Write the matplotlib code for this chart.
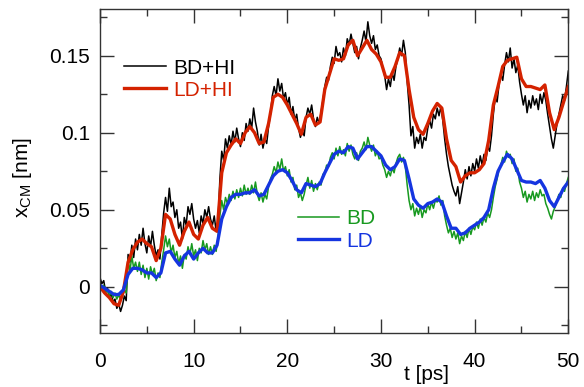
import numpy as np
import matplotlib
matplotlib.use("Agg")
import matplotlib.pyplot as plt
from matplotlib.ticker import MultipleLocator, FixedLocator, FixedFormatter

plt.rcParams["font.family"] = ["Liberation Sans", "DejaVu Sans"]
plt.rcParams["mathtext.fontset"] = "custom"
plt.rcParams["mathtext.rm"] = "Liberation Sans"
plt.rcParams["mathtext.it"] = "Liberation Sans:italic"

# time grids (ps)
t_fine = np.linspace(0, 50, 251)    # noisy BD traces, every 0.2 ps
t_smooth = np.linspace(0, 50, 101)  # LD traces, every 0.5 ps

# BD+HI (black)
bd_hi = [
    0.006, 0.002, 0.004, -0.003, -0.001, -0.007, -0.004, -0.010, -0.008, -0.014,
    -0.011, -0.016, -0.012, -0.006, -0.009, 0.021, 0.016, 0.027, 0.019, 0.031,
    0.024, 0.034, 0.027, 0.038, 0.028, 0.022, 0.033, 0.026, 0.036, 0.027,
    0.020, 0.024, 0.018, 0.034, 0.048, 0.058, 0.049, 0.064, 0.052, 0.055,
    0.045, 0.050, 0.038, 0.042, 0.031, 0.045, 0.040, 0.052, 0.047, 0.054,
    0.044, 0.038, 0.043, 0.035, 0.046, 0.041, 0.050, 0.045, 0.052, 0.044,
    0.040, 0.046, 0.036, 0.041, 0.070, 0.088, 0.082, 0.096, 0.090, 0.098,
    0.092, 0.101, 0.094, 0.103, 0.096, 0.091, 0.100, 0.095, 0.106, 0.101,
    0.109, 0.103, 0.116, 0.107, 0.101, 0.092, 0.099, 0.090, 0.096, 0.093,
    0.104, 0.112, 0.124, 0.130, 0.124, 0.135, 0.127, 0.132, 0.122, 0.126,
    0.118, 0.123, 0.112, 0.117, 0.108, 0.112, 0.103, 0.097, 0.101, 0.098,
    0.110, 0.116, 0.112, 0.118, 0.109, 0.104, 0.110, 0.106, 0.113, 0.121,
    0.130, 0.136, 0.134, 0.143, 0.149, 0.145, 0.156, 0.150, 0.152, 0.146,
    0.155, 0.150, 0.161, 0.157, 0.164, 0.158, 0.152, 0.156, 0.148, 0.155,
    0.160, 0.166, 0.159, 0.172, 0.163, 0.158, 0.163, 0.154, 0.157, 0.150,
    0.148, 0.142, 0.137, 0.128, 0.135, 0.130, 0.139, 0.134, 0.143, 0.148,
    0.155, 0.150, 0.160, 0.152, 0.133, 0.118, 0.098, 0.104, 0.090, 0.097,
    0.093, 0.099, 0.090, 0.097, 0.095, 0.103, 0.108, 0.103, 0.112, 0.109,
    0.116, 0.111, 0.117, 0.108, 0.096, 0.086, 0.078, 0.072, 0.066, 0.062,
    0.059, 0.065, 0.054, 0.061, 0.068, 0.076, 0.070, 0.078, 0.072, 0.080,
    0.075, 0.083, 0.077, 0.085, 0.079, 0.086, 0.082, 0.091, 0.088, 0.098,
    0.112, 0.123, 0.120, 0.131, 0.138, 0.134, 0.144, 0.152, 0.146, 0.155,
    0.142, 0.148, 0.139, 0.144, 0.133, 0.125, 0.118, 0.124, 0.113, 0.121,
    0.116, 0.124, 0.118, 0.122, 0.115, 0.125, 0.119, 0.126, 0.121, 0.112,
    0.104, 0.096, 0.090, 0.098, 0.106, 0.112, 0.118, 0.124, 0.121, 0.130,
    0.140,
]

# BD (green)
bd = [
    0.002, -0.002, 0.001, -0.004, -0.002, -0.006, -0.003, -0.007, -0.004, -0.008,
    -0.005, -0.009, -0.006, -0.002, -0.004, 0.018, 0.010, 0.020, 0.012, 0.016,
    0.010, 0.016, 0.008, 0.014, 0.006, 0.012, 0.005, 0.013, 0.008, 0.012,
    0.004, 0.009, 0.006, 0.016, 0.024, 0.033, 0.026, 0.031, 0.022, 0.027,
    0.019, 0.023, 0.015, 0.020, 0.012, 0.021, 0.018, 0.026, 0.021, 0.028,
    0.020, 0.024, 0.017, 0.025, 0.022, 0.030, 0.024, 0.028, 0.021, 0.026,
    0.021, 0.027, 0.023, 0.032, 0.046, 0.056, 0.050, 0.058, 0.054, 0.060,
    0.056, 0.062, 0.057, 0.063, 0.058, 0.064, 0.059, 0.066, 0.060, 0.064,
    0.060, 0.066, 0.061, 0.068, 0.060, 0.056, 0.061, 0.055, 0.060, 0.057,
    0.065, 0.070, 0.073, 0.078, 0.074, 0.081, 0.076, 0.083, 0.075, 0.078,
    0.072, 0.076, 0.068, 0.071, 0.063, 0.066, 0.058, 0.061, 0.056, 0.060,
    0.066, 0.071, 0.064, 0.069, 0.062, 0.067, 0.063, 0.068, 0.066, 0.073,
    0.074, 0.079, 0.078, 0.084, 0.087, 0.083, 0.090, 0.085, 0.091, 0.086,
    0.089, 0.085, 0.093, 0.088, 0.092, 0.086, 0.083, 0.087, 0.082, 0.088,
    0.090, 0.094, 0.089, 0.097, 0.092, 0.088, 0.092, 0.085, 0.088, 0.083,
    0.084, 0.079, 0.076, 0.071, 0.075, 0.072, 0.077, 0.074, 0.080, 0.084,
    0.086, 0.081, 0.084, 0.078, 0.066, 0.056, 0.050, 0.054, 0.046, 0.051,
    0.047, 0.052, 0.045, 0.050, 0.048, 0.054, 0.050, 0.055, 0.051, 0.056,
    0.055, 0.059, 0.053, 0.056, 0.046, 0.040, 0.035, 0.038, 0.032, 0.036,
    0.031, 0.035, 0.028, 0.033, 0.030, 0.036, 0.032, 0.038, 0.034, 0.039,
    0.037, 0.042, 0.038, 0.044, 0.040, 0.045, 0.042, 0.048, 0.045, 0.050,
    0.058, 0.065, 0.070, 0.076, 0.079, 0.084, 0.081, 0.088, 0.084, 0.086,
    0.080, 0.083, 0.075, 0.077, 0.068, 0.064, 0.058, 0.062, 0.055, 0.060,
    0.057, 0.062, 0.056, 0.061, 0.058, 0.063, 0.059, 0.060, 0.054, 0.051,
    0.047, 0.044, 0.049, 0.052, 0.056, 0.060, 0.058, 0.064, 0.062, 0.067,
    0.071,
]

# LD+HI (red)
ld_hi = [
    0.000, -0.004, -0.007, -0.011, -0.012, -0.003, 0.016, 0.024, 0.029, 0.031,
    0.028, 0.026, 0.017, 0.025, 0.047, 0.044, 0.034, 0.027, 0.036, 0.042,
    0.034, 0.031, 0.040, 0.045, 0.038, 0.036, 0.074, 0.087, 0.092, 0.096,
    0.093, 0.100, 0.104, 0.100, 0.093, 0.094, 0.106, 0.123, 0.125, 0.123,
    0.118, 0.112, 0.106, 0.099, 0.110, 0.112, 0.105, 0.107, 0.128, 0.138,
    0.148, 0.147, 0.148, 0.157, 0.160, 0.150, 0.155, 0.160, 0.154, 0.151,
    0.146, 0.136, 0.136, 0.143, 0.152, 0.150, 0.128, 0.110, 0.102, 0.099,
    0.106, 0.114, 0.119, 0.116, 0.096, 0.082, 0.078, 0.068, 0.072, 0.074,
    0.074, 0.076, 0.080, 0.095, 0.118, 0.130, 0.143, 0.147, 0.148, 0.149,
    0.135, 0.130, 0.130, 0.129, 0.128, 0.131, 0.113, 0.102, 0.110, 0.120,
    0.130,
]

# LD (blue)
ld = [
    0.001, -0.001, -0.003, -0.005, -0.005, -0.002, 0.008, 0.012, 0.012, 0.011,
    0.009, 0.009, 0.006, 0.009, 0.022, 0.023, 0.018, 0.014, 0.020, 0.023,
    0.018, 0.022, 0.025, 0.022, 0.022, 0.027, 0.044, 0.052, 0.058, 0.060,
    0.060, 0.061, 0.061, 0.063, 0.059, 0.060, 0.066, 0.072, 0.075, 0.076,
    0.074, 0.069, 0.063, 0.061, 0.067, 0.066, 0.065, 0.067, 0.074, 0.080,
    0.086, 0.088, 0.087, 0.091, 0.090, 0.083, 0.087, 0.091, 0.091, 0.088,
    0.085, 0.079, 0.076, 0.078, 0.083, 0.082, 0.070, 0.057, 0.053, 0.051,
    0.054, 0.055, 0.057, 0.055, 0.046, 0.038, 0.038, 0.034, 0.035, 0.038,
    0.040, 0.042, 0.045, 0.050, 0.064, 0.075, 0.081, 0.086, 0.083, 0.076,
    0.069, 0.068, 0.068, 0.067, 0.069, 0.064, 0.056, 0.052, 0.058, 0.064,
    0.068,
]

black = "#000000"
red = "#d42200"
green = "#17991f"
blue = "#1535e0"

fig = plt.figure(figsize=(5.84, 3.87), dpi=100)
ax = fig.add_axes([0.1712, 0.1395, 0.8019, 0.836])

l_bdhi, = ax.plot(t_fine, bd_hi, color=black, lw=1.1, label="BD+HI")
l_bd, = ax.plot(t_fine, bd, color=green, lw=1.1, label="BD")
l_ldhi, = ax.plot(t_smooth, ld_hi, color=red, lw=2.4, label="LD+HI")
l_ld, = ax.plot(t_smooth, ld, color=blue, lw=2.4, label="LD")

ax.set_xlim(0, 50)
ax.set_ylim(-0.03, 0.18)

ax.xaxis.set_major_locator(MultipleLocator(10))
ax.xaxis.set_minor_locator(MultipleLocator(5))
ax.yaxis.set_major_locator(FixedLocator([0, 0.05, 0.1, 0.15]))
ax.yaxis.set_major_formatter(FixedFormatter(["0", "0.05", "0.1", "0.15"]))
ax.yaxis.set_minor_locator(MultipleLocator(0.025))

ax.tick_params(which="both", direction="in", top=True, right=True,
               labelsize=15, color="#333333", width=1.0)
ax.tick_params(which="major", length=10)
ax.tick_params(which="minor", length=5)
ax.tick_params(axis="x", pad=14)
ax.tick_params(axis="y", pad=7)
for sp in ax.spines.values():
    sp.set_color("#333333")
    sp.set_linewidth(1.0)

ax.set_xlabel("t [ps]", fontsize=15)
ax.xaxis.set_label_coords(0.697, -0.10)
ax.set_ylabel(r"x$_{\mathrm{CM}}$ [nm]", fontsize=15)
ax.yaxis.set_label_coords(-0.14, 0.48)

leg1 = ax.legend(handles=[l_bdhi, l_ldhi], loc="upper left",
                 bbox_to_anchor=(0.051, 0.848), frameon=False, fontsize=15,
                 handlelength=2.0, handletextpad=0.35, labelspacing=0.15,
                 labelcolor="linecolor", borderaxespad=0, borderpad=0)
ax.add_artist(leg1)
ax.legend(handles=[l_bd, l_ld], loc="upper left",
          bbox_to_anchor=(0.422, 0.382), frameon=False, fontsize=15,
          handlelength=2.0, handletextpad=0.35, labelspacing=0.15,
          labelcolor="linecolor", borderaxespad=0, borderpad=0)

fig.savefig("out.png", dpi=100)
